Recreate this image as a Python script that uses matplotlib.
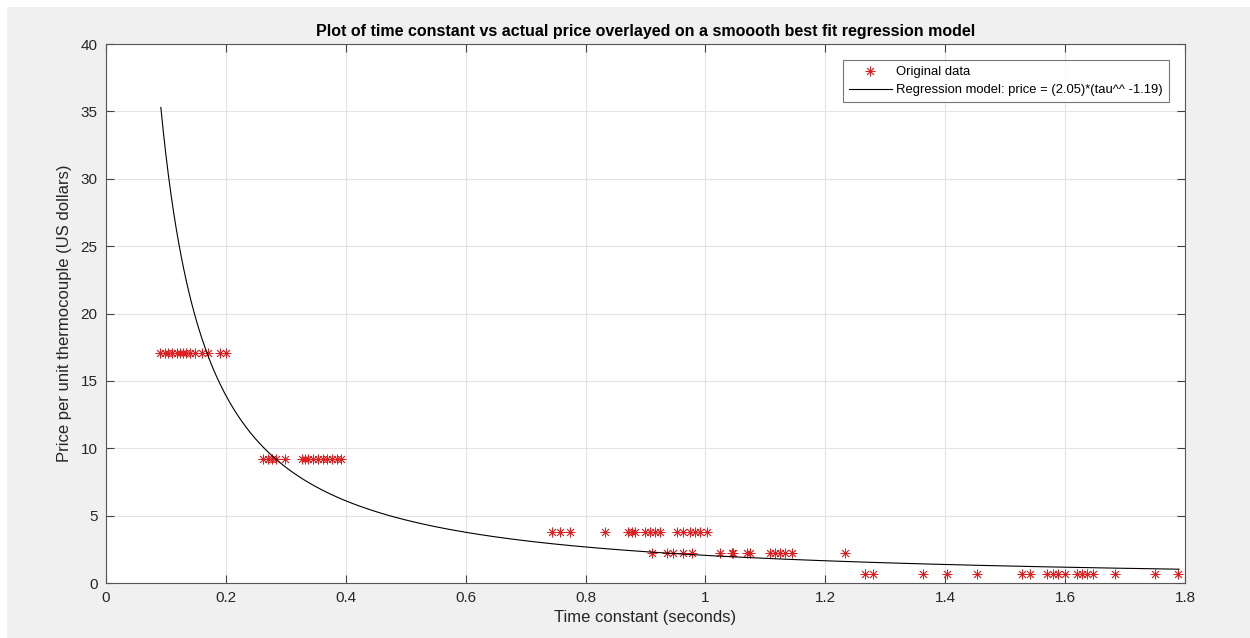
import numpy as np
import matplotlib.pyplot as plt
from matplotlib.patches import Rectangle

plt.rcParams['font.family'] = ['Liberation Sans', 'DejaVu Sans']

# Original data: time constant (s) and price per unit (US dollars)
tau_17 = [0.090, 0.098, 0.104, 0.110, 0.118, 0.124, 0.128, 0.134, 0.140,
          0.148, 0.160, 0.170, 0.190, 0.200]
tau_9 = [0.262, 0.270, 0.277, 0.284, 0.299, 0.327, 0.332, 0.337, 0.345,
         0.354, 0.362, 0.369, 0.377, 0.385, 0.392]
tau_4 = [0.744, 0.757, 0.774, 0.833, 0.871, 0.877, 0.883, 0.899, 0.908,
         0.916, 0.924, 0.953, 0.963, 0.974, 0.983, 0.991, 1.003]
tau_2 = [0.911, 0.936, 0.946, 0.963, 0.978, 1.024, 1.044, 1.046, 1.069,
         1.074, 1.108, 1.116, 1.124, 1.133, 1.144, 1.233]
tau_07 = [1.266, 1.280, 1.363, 1.403, 1.453, 1.528, 1.541, 1.570, 1.580,
          1.588, 1.600, 1.620, 1.628, 1.637, 1.647, 1.683, 1.750, 1.788]
price_levels = [17.1, 9.2, 3.8, 2.2, 0.7]

tau = np.array(tau_17 + tau_9 + tau_4 + tau_2 + tau_07)
price = np.concatenate([np.full(len(g), p) for g, p in
                        zip([tau_17, tau_9, tau_4, tau_2, tau_07], price_levels)])

# Regression model from the legend: price = a * tau^b
a_fit = 2.05
b_fit = -1.19
tau_fit = np.linspace(0.0915, 1.79, 400)
price_fit = a_fit * tau_fit ** b_fit

fig = plt.figure(figsize=(12.5, 6.38), dpi=100, facecolor='#f0f0f0')
# thin white strips on top and left edges, as in the screenshot
fig.patches.append(Rectangle((0, 1 - 7 / 638), 1, 7 / 638, transform=fig.transFigure,
                             facecolor='white', edgecolor='none', zorder=-10))
fig.patches.append(Rectangle((0, 0), 7 / 1250, 1, transform=fig.transFigure,
                             facecolor='white', edgecolor='none', zorder=-10))
ax = fig.add_axes([0.0848, 0.0862, 0.8632, 0.8448])

ax.plot(tau, price, linestyle='none', marker=(8, 2, 0), color='#e02020',
        markersize=7, markeredgewidth=0.6, label='Original data')
ax.plot(tau_fit, price_fit, color='black', linewidth=0.8,
        label='Regression model: price = (2.05)*(tau^^ -1.19)')

ax.set_xlim(0, 1.8)
ax.set_ylim(0, 40)
ax.set_xticks(np.arange(0, 1.81, 0.2))
ax.set_xticklabels(['0', '0.2', '0.4', '0.6', '0.8', '1', '1.2', '1.4', '1.6', '1.8'])
ax.set_yticks(np.arange(0, 41, 5))
ax.grid(True, color='#e3e3e3', linewidth=0.8)
ax.set_axisbelow(True)
ax.tick_params(direction='in', top=True, right=True, length=6, width=0.8,
               colors='#404040', labelsize=11, labelcolor='#262626', pad=6)
for s in ax.spines.values():
    s.set_color('#555555')
    s.set_linewidth(0.8)

ax.set_title('Plot of time constant vs actual price overlayed on a smoooth best fit regression model',
             fontsize=11.5, fontweight='bold', pad=6)
ax.set_xlabel('Time constant (seconds)', fontsize=12, color='#262626', labelpad=3)
ax.set_ylabel('Price per unit thermocouple (US dollars)', fontsize=12, color='#262626', labelpad=6)

leg = ax.legend(loc='upper right', fontsize=9.4, frameon=True, fancybox=False,
                borderaxespad=1.25, handlelength=3.3, handletextpad=0.35,
                borderpad=0.45, labelspacing=0.45)
leg.get_frame().set_edgecolor('#555555')
leg.get_frame().set_linewidth(0.8)

fig.savefig('out.png', dpi=100, facecolor=fig.get_facecolor())
